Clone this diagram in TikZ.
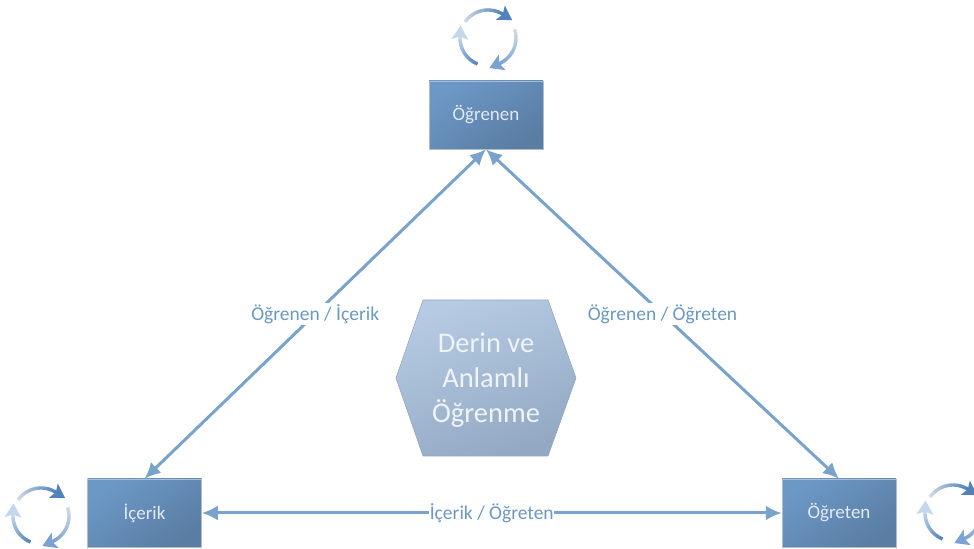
\documentclass[tikz,border=0pt]{standalone}
\usepackage{fontspec}
\setmainfont{Carlito}
\usetikzlibrary{arrows.meta,positioning}
\definecolor{okmavi}{HTML}{7AA3CC}
\definecolor{yazimavi}{HTML}{6B98C4}
\definecolor{kutuacik}{HTML}{6C98C6}
\definecolor{kutukoyu}{HTML}{5A7DA3}
\definecolor{altiacik}{HTML}{B6CBE3}
\definecolor{altikoyu}{HTML}{93A8C2}
\definecolor{solgun}{HTML}{D3DAE4}
\definecolor{koyu}{HTML}{5282BC}
\definecolor{orta}{HTML}{7BA2D2}
\definecolor{acik}{HTML}{C3D8EA}
\tikzset{
  kutu/.style={draw=kutukoyu!50!white,line width=.5bp,minimum width=114bp,minimum height=68bp,
    inner sep=0pt,top color=kutuacik,bottom color=kutukoyu,shading angle=35,
    text=white!80!kutuacik,font=\fontsize{19bp}{23bp}\selectfont},
  ok/.style={draw=okmavi,line width=3bp,{Latex[length=16bp,width=15bp]}-{Latex[length=16bp,width=15bp]}},
  etiket/.style={fill=white,inner sep=1.5pt,text=yazimavi,font=\fontsize{19.5bp}{23bp}\selectfont},
  yazi/.style={text=white!78!altiacik,align=center,font=\fontsize{28.5bp}{35bp}\selectfont},
  pics/dongu/.style={code={
    \yay{145}{58}{solgun}{koyu}
    \yay{18}{-66}{solgun}{orta}
    \yay{-112}{-183}{koyu}{acik}
  }},
}
% one bent arrow of the cycle icon, fading from #3 to #4
\newcommand{\yay}[4]{%
  \foreach \i in {0,...,23}{
    \pgfmathsetmacro{\ilk}{#1+(#2-(#1))*\i/24}
    \pgfmathsetmacro{\son}{#1+(#2-(#1))*(\i+1.2)/24}
    \pgfmathsetmacro{\oran}{100*\i/23}
    \draw [line width=3.4bp,color=#4!\oran!#3] (\ilk:28bp) arc [start angle=\ilk,end angle=\son,radius=28bp];
  }
  \fill [color=#4,shift={(#2:28bp)},rotate=#2-90] (-3bp,8.5bp) -- (11bp,0bp) -- (-3bp,-8.5bp) -- (0bp,0bp) -- cycle;
}
\begin{document}
\begin{tikzpicture}[line join=bevel,]
%%
\path [use as bounding box] (0bp,0bp) rectangle (974bp,549bp);
\clip (0bp,0bp) rectangle (974bp,549bp);
%%
\node (ogrenen) at (486bp,434bp) [kutu] {Öğrenen};
  \node (icerik) at (144.5bp,36bp) [kutu] {İçerik};
  \node (ogreten) at (839bp,36bp) [kutu] {Öğreten};
  \draw [ok] (ogrenen.south) -- node (lbla) [etiket] {Öğrenen / İçerik} (icerik.north);
  \draw [ok] (ogrenen.south) -- node (lblb) [etiket] {Öğrenen / Öğreten} (ogreten.north);
  \draw [ok] (icerik.east) -- node (lblc) [etiket,inner sep=.5pt] {İçerik / Öğreten} (ogreten.west);
%
  \draw [draw=altikoyu,line width=.6bp,top color=altiacik,bottom color=altikoyu,shading angle=20]
    (423bp,249bp) -- (548bp,249bp) -- (576bp,171bp) -- (548bp,93bp) -- (423bp,93bp) -- (396bp,171bp) -- cycle;
  \node (derin) at (486bp,169bp) [yazi] {Derin ve\\Anlamlı\\Öğrenme};
%
  \pic at (488bp,511bp) {dongu};
  \pic at (41bp,33bp) {dongu};
  \pic at (953bp,36bp) {dongu};
%
\end{tikzpicture}
\end{document}
